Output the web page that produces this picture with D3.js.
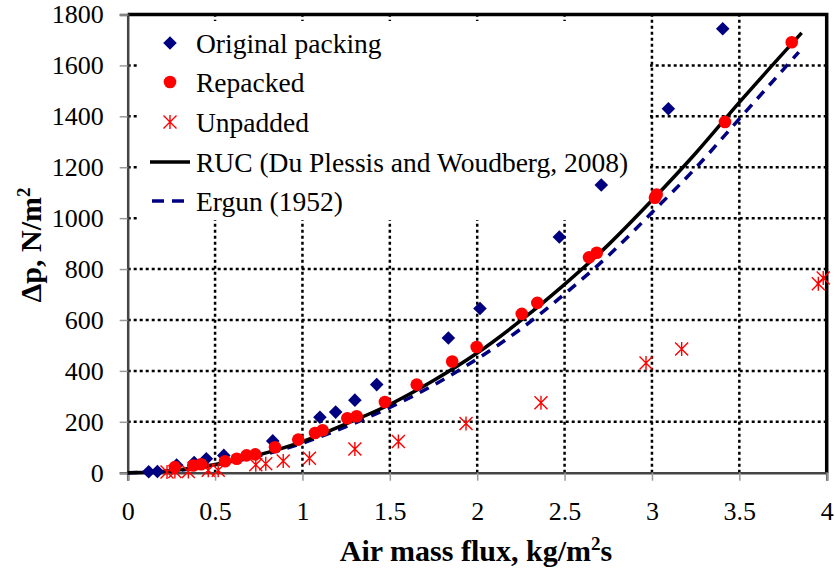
<!DOCTYPE html>
<html>
<head>
<meta charset="utf-8">
<script src="https://cdn.jsdelivr.net/npm/d3@7"></script>
<style>
  body { margin: 0; background: #fff; }
  svg { display: block; }
</style>
</head>
<body>
<div id="container"></div>
<script>
/* CONSTANTS AND GLOBALS */
const width = 835,
  height = 571,
  margin = { top: 14.5, bottom: 98.3, left: 127.7, right: 8.3 };

const font = "'Liberation Serif', 'Times New Roman', serif";

// data
const originalX = [0.12, 0.17, 0.28, 0.38, 0.45, 0.55, 0.83, 1.10, 1.19, 1.30, 1.425, 1.835, 2.016, 2.47, 2.71, 3.094, 3.405];
const originalY = [4, 5, 30, 40, 55, 68, 125, 218, 238, 285, 346, 529, 645, 926, 1130, 1430, 1744];

const repackedX = [0.27, 0.375, 0.42, 0.557, 0.624, 0.68, 0.73, 0.843, 0.976, 1.072, 1.115, 1.257, 1.31, 1.472, 1.654, 1.857, 1.997, 2.255, 2.344, 2.64, 2.684, 3.017, 3.027, 3.418, 3.80];
const repackedY = [22, 28, 33, 45, 55, 68, 72, 100, 130, 156, 167, 214, 222, 278, 346, 437, 494, 624, 667, 846, 864, 1080, 1093, 1378, 1691];

const unpaddedX = [0.225, 0.27, 0.347, 0.461, 0.518, 0.733, 0.79, 0.89, 1.04, 1.30, 1.549, 1.936, 2.365, 2.966, 3.17, 3.952, 3.98];
const unpaddedY = [3, 5, 5, 10, 10, 31, 35, 46, 57, 93, 123, 193, 275, 431, 486, 742, 765];

const rucX = [0, 0.25, 0.5, 0.75, 1, 1.25, 1.5, 1.75, 2, 2.25, 2.5, 2.75, 3, 3.25, 3.5, 3.857];
const rucY = [0, 8, 32, 70, 122, 192, 268, 362, 470, 598, 740, 895, 1070, 1255, 1455, 1728];

const ergunX = [0, 0.25, 0.5, 0.75, 1, 1.25, 1.5, 1.75, 2, 2.25, 2.5, 2.75, 3, 3.25, 3.5, 3.84];
const ergunY = [0, 7, 30, 66, 116, 181, 256, 344, 447, 565, 702, 852, 1022, 1197, 1390, 1652];

const xTicks = [0, 0.5, 1, 1.5, 2, 2.5, 3, 3.5, 4];
const yTicks = [0, 200, 400, 600, 800, 1000, 1200, 1400, 1600, 1800];

const legendLabels = ["Original packing", "Repacked", "Unpadded", "RUC (Du Plessis and Woudberg, 2008)", "Ergun (1952)"];

const navy = "#000080", red = "#ff0000";

const zip = (xs, ys) => xs.map((x, i) => ({ x: x, y: ys[i] }));

// scales
const xScale = d3.scaleLinear()
  .domain([0, 4])
  .range([margin.left, width - margin.right]);

const yScale = d3.scaleLinear()
  .domain([0, 1800])
  .range([height - margin.bottom, margin.top]);

const svg = d3.select("#container")
  .append("svg")
  .attr("width", width)
  .attr("height", height);

// grid (dotted)
svg.append("g")
  .selectAll("line")
  .data(yTicks.slice(1, -1))
  .join("line")
  .attr("x1", xScale(0))
  .attr("x2", xScale(4))
  .attr("y1", d => yScale(d))
  .attr("y2", d => yScale(d))
  .attr("stroke", "#000")
  .attr("stroke-width", 2.5)
  .attr("stroke-dasharray", "3,3");

svg.append("g")
  .selectAll("line")
  .data(xTicks.slice(1, -1))
  .join("line")
  .attr("x1", d => xScale(d))
  .attr("x2", d => xScale(d))
  .attr("y1", yScale(0))
  .attr("y2", yScale(1800))
  .attr("stroke", "#000")
  .attr("stroke-width", 2.5)
  .attr("stroke-dasharray", "3,3");

// legend background hides the grid
svg.append("rect")
  .attr("x", 137)
  .attr("y", 21)
  .attr("width", 513)
  .attr("height", 199)
  .attr("fill", "#fff");

// frame top and right
svg.append("path")
  .attr("d", `M${xScale(0)},${yScale(1800)}H${xScale(4)}V${yScale(0)}`)
  .attr("fill", "none")
  .attr("stroke", "#000")
  .attr("stroke-width", 3.5);

// axes
const xAxis = d3.axisBottom(xScale).tickValues(xTicks).tickFormat(d3.format("")).tickSize(8).tickPadding(21);
const yAxis = d3.axisLeft(yScale).tickValues(yTicks).tickFormat(d3.format("d")).tickSize(8).tickPadding(16);

const gx = svg.append("g")
  .attr("transform", `translate(0,${yScale(0)})`)
  .call(xAxis);

const gy = svg.append("g")
  .attr("transform", `translate(${xScale(0)},0)`)
  .call(yAxis);

[gx, gy].forEach(g => {
  g.select(".domain").attr("stroke", "#444").attr("stroke-width", 2.5);
  g.selectAll(".tick line").attr("stroke", "#999").attr("stroke-width", 1.5);
  g.selectAll(".tick text")
    .attr("fill", "#000")
    .style("font-family", font)
    .style("font-size", "26px");
});

// lines
const lineGen = d3.line()
  .x(d => xScale(d.x))
  .y(d => yScale(d.y))
  .curve(d3.curveMonotoneX);

svg.append("path")
  .datum(zip(ergunX, ergunY))
  .attr("fill", "none")
  .attr("stroke", navy)
  .attr("stroke-width", 3.5)
  .attr("stroke-dasharray", "10,8")
  .attr("d", lineGen);

svg.append("path")
  .datum(zip(rucX, rucY))
  .attr("fill", "none")
  .attr("stroke", "#000")
  .attr("stroke-width", 3.5)
  .attr("d", lineGen);

// markers
const diamond = d3.symbol().type(d3.symbolSquare).size(92);
const starPath = "M-6.5,-6.5L6.5,6.5M-6.5,6.5L6.5,-6.5M0,-7L0,7";

svg.append("g")
  .selectAll("path")
  .data(zip(unpaddedX, unpaddedY))
  .join("path")
  .attr("transform", d => `translate(${xScale(d.x)},${yScale(d.y)})`)
  .attr("d", starPath)
  .attr("fill", "none")
  .attr("stroke", red)
  .attr("stroke-width", 1.4);

svg.append("g")
  .selectAll("path")
  .data(zip(originalX, originalY))
  .join("path")
  .attr("transform", d => `translate(${xScale(d.x)},${yScale(d.y)}) rotate(45)`)
  .attr("d", diamond)
  .attr("fill", navy);

svg.append("g")
  .selectAll("circle")
  .data(zip(repackedX, repackedY))
  .join("circle")
  .attr("cx", d => xScale(d.x))
  .attr("cy", d => yScale(d.y))
  .attr("r", 6.3)
  .attr("fill", red);

// legend
const rowY = [43, 82, 122, 162, 201];
const legend = svg.append("g");

legend.append("path")
  .attr("transform", `translate(170,${rowY[0]}) rotate(45)`)
  .attr("d", diamond)
  .attr("fill", navy);

legend.append("circle")
  .attr("cx", 170)
  .attr("cy", rowY[1])
  .attr("r", 6.3)
  .attr("fill", red);

legend.append("path")
  .attr("transform", `translate(170,${rowY[2]})`)
  .attr("d", starPath)
  .attr("fill", "none")
  .attr("stroke", red)
  .attr("stroke-width", 1.4);

legend.append("line")
  .attr("x1", 150).attr("x2", 190)
  .attr("y1", rowY[3]).attr("y2", rowY[3])
  .attr("stroke", "#000")
  .attr("stroke-width", 3.5);

legend.append("line")
  .attr("x1", 152).attr("x2", 190)
  .attr("y1", rowY[4]).attr("y2", rowY[4])
  .attr("stroke", navy)
  .attr("stroke-width", 3.5)
  .attr("stroke-dasharray", "12,8");

legend.selectAll("text")
  .data(legendLabels)
  .join("text")
  .attr("x", 196)
  .attr("y", (d, i) => rowY[i])
  .attr("dy", "0.35em")
  .style("font-family", font)
  .style("font-size", "27.5px")
  .text(d => d);

// axis titles
const xTitle = svg.append("text")
  .attr("x", 476)
  .attr("y", 561)
  .attr("text-anchor", "middle")
  .style("font-family", font)
  .style("font-size", "30px")
  .style("font-weight", "bold");
xTitle.append("tspan").text("Air mass flux, kg/m");
xTitle.append("tspan").attr("dy", -11).style("font-size", "19px").text("2");
xTitle.append("tspan").attr("dy", 11).text("s");

const yTitle = svg.append("text")
  .attr("transform", "translate(41,245) rotate(-90)")
  .attr("text-anchor", "middle")
  .style("font-family", font)
  .style("font-size", "30px")
  .style("font-weight", "bold");
yTitle.append("tspan").text("Δp, N/m");
yTitle.append("tspan").attr("dy", -11).style("font-size", "19px").text("2");
</script>
</body>
</html>
